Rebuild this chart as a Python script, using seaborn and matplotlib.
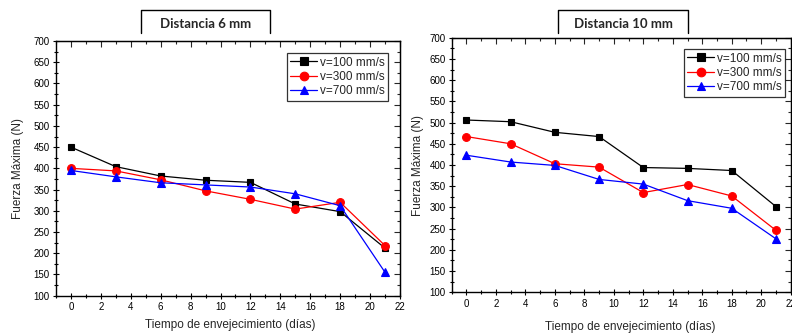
import matplotlib
matplotlib.use("Agg")
import matplotlib.pyplot as plt
from matplotlib.lines import Line2D
from matplotlib.ticker import MultipleLocator
import pandas as pd
import seaborn as sns

# Aging time (days)
dias = [0, 3, 6, 9, 12, 15, 18, 21]
series_names = ["v=100 mm/s", "v=300 mm/s", "v=700 mm/s"]

# Maximum force (N), distance 6 mm
d6_v100 = [450, 404, 382, 372, 367, 316, 298, 212]
d6_v300 = [400, 394, 373, 347, 327, 304, 320, 218]
d6_v700 = [395, 380, 366, 361, 356, 340, 312, 155]

# Maximum force (N), distance 10 mm
d10_v100 = [506, 502, 477, 467, 394, 392, 387, 302]
d10_v300 = [467, 450, 403, 395, 335, 354, 327, 246]
d10_v700 = [423, 407, 399, 366, 355, 316, 298, 226]

titles = ["Distancia 6 mm", "Distancia 10 mm"]
xlabel = "Tiempo de envejecimiento (días)"
ylabel = "Fuerza Máxima (N)"


def long_table(v100, v300, v700):
    rows = []
    for name, vals in zip(series_names, (v100, v300, v700)):
        for d, f in zip(dias, vals):
            rows.append({"dias": d, "fuerza": f, "serie": name})
    return pd.DataFrame(rows)


sns.set_style("white")
plt.rcParams["font.family"] = ["Liberation Sans", "DejaVu Sans"]

palette = {series_names[0]: "black", series_names[1]: "red", series_names[2]: "blue"}
markers = {series_names[0]: "s", series_names[1]: "o", series_names[2]: "^"}
msizes = {series_names[0]: 4.8, series_names[1]: 5.6, series_names[2]: 5.6}

W, H = 792, 336
fig = plt.figure(figsize=(W / 100, H / 100), dpi=100)
axes_rects = [
    [56 / W, 1 - 295.7 / H, (400 - 56) / W, (295.7 - 41) / H],
    [451.7 / W, 1 - 292.3 / H, (790.7 - 451.7) / W, (292.3 - 37.7) / H],
]
tables = [long_table(d6_v100, d6_v300, d6_v700), long_table(d10_v100, d10_v300, d10_v700)]
title_boxes = [(140.7, 270.0), (558.0, 688.0)]
xlabel_pos = [(230, 325), (630, 327)]
legend_corner = [(388, 53), (785, 49)]
ylabel_pad = [7, 4]

for i, (rect, df) in enumerate(zip(axes_rects, tables)):
    ax = fig.add_axes(rect)
    sns.lineplot(
        data=df, x="dias", y="fuerza", hue="serie", style="serie",
        palette=palette, markers=markers, dashes=False,
        markeredgewidth=0.8, linewidth=0.9, ax=ax,
    )
    ax.set_xlim(-1, 22)
    ax.set_ylim(100, 700)
    ax.xaxis.set_major_locator(MultipleLocator(2))
    ax.xaxis.set_minor_locator(MultipleLocator(1))
    ax.yaxis.set_major_locator(MultipleLocator(50))
    ax.yaxis.set_minor_locator(MultipleLocator(25))
    ax.tick_params(which="both", direction="inout", labelsize=7, colors="black",
                   top=False, right=False, bottom=True, left=True, pad=2)
    ax.tick_params(which="major", length=5, width=0.8)
    ax.tick_params(which="minor", length=3, width=0.8)
    for s in ax.spines.values():
        s.set_color("black")
        s.set_linewidth(1.0)
    # mirrored ticks pointing inward
    top = ax.secondary_xaxis("top")
    top.xaxis.set_major_locator(MultipleLocator(2))
    top.xaxis.set_minor_locator(MultipleLocator(1))
    top.tick_params(which="both", direction="in", labeltop=False, width=0.8)
    top.tick_params(which="major", length=4)
    top.tick_params(which="minor", length=2)
    right = ax.secondary_yaxis("right")
    right.yaxis.set_major_locator(MultipleLocator(50))
    right.yaxis.set_minor_locator(MultipleLocator(25))
    right.tick_params(which="both", direction="in", labelright=False, width=0.8)
    right.tick_params(which="major", length=4)
    right.tick_params(which="minor", length=2)

    ax.set_xlabel("")
    ax.set_ylabel(ylabel, fontsize=8.5, labelpad=ylabel_pad[i])
    fig.text(xlabel_pos[i][0] / W, 1 - xlabel_pos[i][1] / H, xlabel,
             fontsize=8.5, ha="center", va="center")

    handles, labels = ax.get_legend_handles_labels()
    for h, lab in zip(handles, labels):
        h.set_markersize(msizes[lab] + 0.6)
        h.set_markeredgecolor(h.get_color())
    lx, ly = legend_corner[i]
    leg = ax.legend(handles, labels, loc="upper right", fontsize=8.5, frameon=True,
                    fancybox=False, borderpad=0.3, labelspacing=0.2,
                    handlelength=2.3, handletextpad=0.2, borderaxespad=0,
                    bbox_to_anchor=(lx / W, 1 - ly / H), bbox_transform=fig.transFigure)
    leg.get_frame().set_edgecolor("black")
    leg.get_frame().set_linewidth(0.9)

    data_lines = [l for l in ax.lines if len(l.get_xdata()) == len(dias)]
    for ln, lab in zip(data_lines, series_names):
        ln.set_markersize(msizes[lab])
        ln.set_markeredgecolor(ln.get_color())

    # title box
    x0, x1 = title_boxes[i]
    yb, yt = 1 - 33 / H, 1 - 10 / H
    fig.add_artist(Line2D([x0 / W, x0 / W, x1 / W, x1 / W], [yb, yt, yt, yb],
                          color="black", linewidth=1.0))
    fig.text((x0 + x1) / 2 / W, 1 - 24 / H, titles[i], fontsize=9.5,
             fontweight="bold", family=["Lato", "DejaVu Sans"], ha="center", va="center")

fig.savefig("out.png", dpi=100)
